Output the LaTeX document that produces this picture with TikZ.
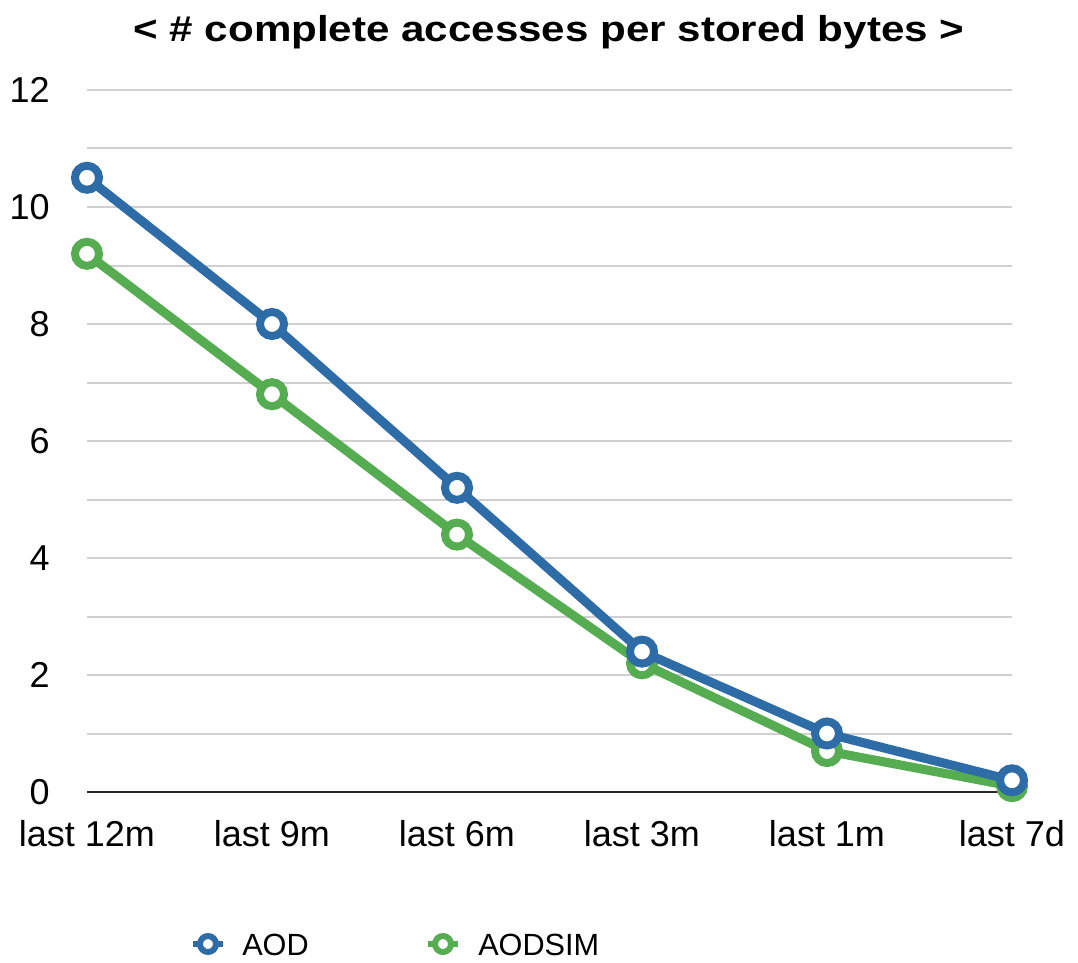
\documentclass[tikz,border=0pt]{standalone}
\usepackage{fontspec}
\setmainfont{Liberation Sans}
\usepackage{graphicx}
\definecolor{aodblue}{RGB}{45,108,166}
\definecolor{simgreen}{RGB}{86,172,80}
\definecolor{gridgray}{RGB}{208,208,208}
\begin{document}
\begin{tikzpicture}[x=0.75pt,y=-0.75pt,
  grid/.style={draw=gridgray,line width=1.5pt},
  axisline/.style={draw=black!85,line width=1.6pt},
  ticklab/.style={inner sep=0pt,font=\fontsize{27pt}{30pt}\selectfont},
  leglab/.style={inner sep=0pt,anchor=base west,font=\fontsize{23pt}{26pt}\selectfont},
  series/.style={line width=6.8pt,line join=round,line cap=round},
  ptmark/.style={circle,fill=white,line width=6pt,minimum size=18pt,inner sep=0pt},
  legmark/.style={circle,fill=white,line width=4.5pt,minimum size=12pt,inner sep=0pt},
  legstub/.style={line width=4pt}]
\useasboundingbox[fill=white] (0,0) rectangle (1078,963);
% title
\node[inner sep=0pt,anchor=base] (title) at (549,42)
  {\resizebox{623pt}{\height}{\fontsize{27pt}{30pt}\selectfont\bfseries < \# complete accesses per stored bytes >}};
% grid lines
\foreach \v in {1,...,12} {
  \coordinate (gl\v) at (87,{792-58.5*\v});
  \coordinate (gr\v) at (1012,{792-58.5*\v});
  \draw[grid] (gl\v) -- (gr\v);
}
\coordinate (ax0) at (87,792);
\coordinate (ax1) at (1012,792);
\draw[axisline] (ax0) -- (ax1);
% y labels
\foreach \v in {0,2,4,6,8,10,12} {
  \node[ticklab,anchor=east] (y\v) at (50,{792-58.5*\v}) {\v};
}
% x labels
\foreach \t [count=\i from 0] in {last 12m,last 9m,last 6m,last 3m,last 1m,last 7d} {
  \node[ticklab,anchor=base] (x\i) at ({87+185*\i},846) {\t};
}
% data points
\foreach \v [count=\i from 0] in {10.5,8,5.2,2.4,1.0,0.2} {
  \coordinate (a\i) at ({87+185*\i},{792-58.5*\v});
}
\foreach \v [count=\i from 0] in {9.2,6.8,4.4,2.2,0.7,0.1} {
  \coordinate (s\i) at ({87+185*\i},{792-58.5*\v});
}
% AODSIM series
\draw[series,simgreen] (s0) -- (s1) -- (s2) -- (s3) -- (s4) -- (s5);
\foreach \i in {0,...,5} { \node[ptmark,draw=simgreen] (sm\i) at (s\i) {}; }
% AOD series
\draw[series,aodblue] (a0) -- (a1) -- (a2) -- (a3) -- (a4) -- (a5);
\foreach \i in {0,...,5} { \node[ptmark,draw=aodblue] (am\i) at (a\i) {}; }
% legend
\coordinate (la0) at (193,944);
\coordinate (la1) at (223,944);
\draw[legstub,aodblue] (la0) -- (la1);
\node[legmark,draw=aodblue] (lma) at (208,944) {};
\node[leglab] (lta) at (242,955) {AOD};
\coordinate (ls0) at (428,944);
\coordinate (ls1) at (458,944);
\draw[legstub,simgreen] (ls0) -- (ls1);
\node[legmark,draw=simgreen] (lms) at (443,944) {};
\node[leglab] (lts) at (478,955) {AODSIM};
\end{tikzpicture}
\end{document}
